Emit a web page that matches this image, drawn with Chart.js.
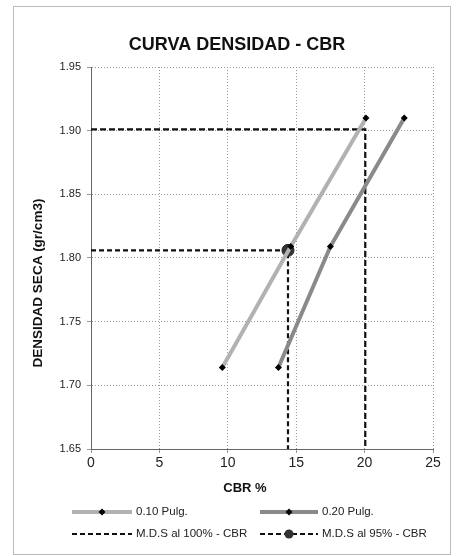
<!DOCTYPE html>
<html>
<head>
<script src="https://cdn.jsdelivr.net/npm/chart.js@4.4.1/dist/chart.umd.min.js"></script>
<style>
  html, body { margin: 0; padding: 0; background: #fff; }
  #wrap { width: 459px; height: 556px; position: relative; }
</style>
</head>
<body>
<div id="wrap"><canvas id="chart" width="459" height="556"></canvas></div>
<script>
// values
var densidad = [1.714, 1.809, 1.910];
var cbr010 = [9.6, 14.6, 20.1];
var cbr020 = [13.7, 17.5, 22.9];
var mds100 = 1.901, cbrAt100 = 20.05;
var mds95 = 1.806, cbrAt95 = 14.4;
var yTicks = [1.65, 1.70, 1.75, 1.80, 1.85, 1.90, 1.95];
var xTicks = [0, 5, 10, 15, 20, 25];

var chartTitle = 'CURVA DENSIDAD - CBR';
var xTitle = 'CBR %';
var yTitle = 'DENSIDAD SECA (gr/cm3)';

function pts(xs, ys) {
  return xs.map(function (x, i) { return { x: x, y: ys[i] }; });
}

var FONT = "'Liberation Sans', Arial, sans-serif";

var legendItems = [
  { text: '0.10 Pulg.', color: '#b2b2b2', width: 4, dash: [], marker: 'diamond' },
  { text: '0.20 Pulg.', color: '#8a8a8a', width: 4, dash: [], marker: 'diamond' },
  { text: 'M.D.S al 100% - CBR', color: '#111', width: 2.2, dash: [5, 3], marker: null },
  { text: 'M.D.S al 95% - CBR', color: '#111', width: 2.2, dash: [5, 3], marker: 'circle' }
];

// frame, titles (Excel-style offsets) and a two-column legend
var extras = {
  id: 'extras',
  beforeDraw: function (chart) {
    var c = chart.ctx;
    c.save();
    c.fillStyle = '#fff';
    c.fillRect(0, 0, chart.width, chart.height);
    c.strokeStyle = '#bbb';
    c.lineWidth = 1;
    c.strokeRect(13.5, 6.5, 437, 548);
    c.restore();
  },
  afterDraw: function (chart) {
    var c = chart.ctx;
    c.save();
    c.fillStyle = '#111';
    c.textAlign = 'center';
    c.textBaseline = 'middle';
    c.font = 'bold 18px ' + FONT;
    c.fillText(chartTitle, 237, 45);
    c.font = 'bold 13px ' + FONT;
    c.fillText(xTitle, 245, 488);
    c.save();
    c.translate(38, 283);
    c.rotate(-Math.PI / 2);
    c.font = 'bold 13.5px ' + FONT;
    c.fillText(yTitle, 0, 0);
    c.restore();

    var cols = [72, 260], rows = [512, 534], sw = [60, 58];
    c.textAlign = 'left';
    legendItems.forEach(function (it, i) {
      var x0 = cols[i % 2], y = rows[Math.floor(i / 2)], w = sw[i % 2];
      c.strokeStyle = it.color;
      c.lineWidth = it.width;
      c.setLineDash(it.dash);
      c.beginPath();
      c.moveTo(x0, y);
      c.lineTo(x0 + w, y);
      c.stroke();
      c.setLineDash([]);
      var mx = x0 + w / 2;
      if (it.marker === 'diamond') {
        c.fillStyle = '#000';
        c.beginPath();
        c.moveTo(mx, y - 3.5); c.lineTo(mx + 3.5, y); c.lineTo(mx, y + 3.5); c.lineTo(mx - 3.5, y);
        c.closePath();
        c.fill();
      } else if (it.marker === 'circle') {
        c.fillStyle = '#333';
        c.beginPath();
        c.arc(mx, y, 4.5, 0, Math.PI * 2);
        c.fill();
      }
      c.fillStyle = '#222';
      c.font = '11.5px ' + FONT;
      c.fillText(it.text, x0 + w + 4, y);
    });
    c.restore();
  }
};

new Chart(document.getElementById('chart'), {
  type: 'scatter',
  data: {
    datasets: [
      {
        label: '0.10 Pulg.',
        data: pts(cbr010, densidad),
        showLine: true,
        borderColor: '#b2b2b2',
        borderWidth: 4,
        pointStyle: 'rectRot',
        pointRadius: 3.5,
        pointBackgroundColor: '#000',
        pointBorderColor: '#000',
        pointBorderWidth: 0
      },
      {
        label: '0.20 Pulg.',
        data: pts(cbr020, densidad),
        showLine: true,
        borderColor: '#8a8a8a',
        borderWidth: 4,
        pointStyle: 'rectRot',
        pointRadius: 3.5,
        pointBackgroundColor: '#000',
        pointBorderColor: '#000',
        pointBorderWidth: 0
      },
      {
        label: 'M.D.S al 100% - CBR',
        data: pts([0, cbrAt100, cbrAt100], [mds100, mds100, yTicks[0]]),
        showLine: true,
        borderColor: '#111',
        borderWidth: 2.2,
        borderDash: [6, 3],
        pointRadius: 0
      },
      {
        label: 'M.D.S al 95% - CBR',
        data: pts([0, cbrAt95, cbrAt95], [mds95, mds95, yTicks[0]]),
        showLine: true,
        borderColor: '#111',
        borderWidth: 2.2,
        borderDash: [5, 3],
        pointRadius: [0, 6, 0],
        pointBackgroundColor: '#333',
        pointBorderColor: '#222',
        pointBorderWidth: 1
      }
    ]
  },
  options: {
    responsive: false,
    animation: false,
    layout: { padding: { left: 0, right: 26, top: 67, bottom: 60 } },
    plugins: {
      legend: { display: false },
      tooltip: { enabled: false },
      title: { display: false }
    },
    scales: {
      x: {
        type: 'linear',
        min: xTicks[0],
        max: xTicks[xTicks.length - 1],
        afterBuildTicks: function (s) { s.ticks = xTicks.map(function (v) { return { value: v }; }); },
        afterFit: function (s) { s.height = 47; },
        ticks: { color: '#222', font: { family: FONT, size: 14 }, padding: 2 },
        grid: { color: '#999', tickLength: 4 },
        border: { color: '#666', width: 1, dash: [1, 2] }
      },
      y: {
        type: 'linear',
        min: yTicks[0],
        max: yTicks[yTicks.length - 1],
        afterBuildTicks: function (s) { s.ticks = yTicks.map(function (v) { return { value: v }; }); },
        afterFit: function (s) { s.width = 91; },
        ticks: {
          color: '#222',
          font: { family: FONT, size: 11 },
          padding: 6,
          callback: function (v) { return v.toFixed(2); }
        },
        grid: { color: '#999', tickLength: 4 },
        border: { color: '#666', width: 1, dash: [1, 2] }
      }
    }
  },
  plugins: [extras]
});
</script>
</body>
</html>
